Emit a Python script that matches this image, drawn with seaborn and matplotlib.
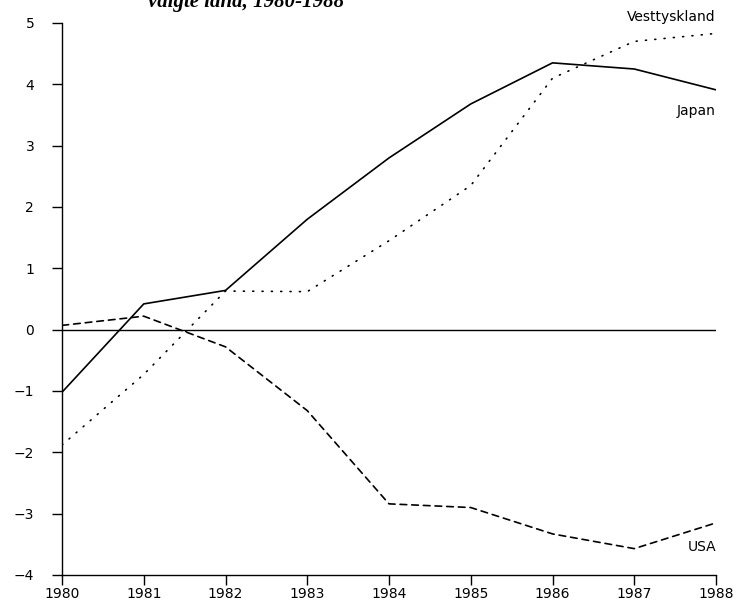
import numpy as np
import pandas as pd
import matplotlib
matplotlib.use("Agg")
import matplotlib.pyplot as plt
import seaborn as sns

years = [1980, 1981, 1982, 1983, 1984, 1985, 1986, 1987, 1988]
japan = [-1.02, 0.42, 0.64, 1.80, 2.80, 3.68, 4.35, 4.25, 3.91]
vesttyskland = [-1.88, -0.73, 0.63, 0.62, 1.45, 2.35, 4.10, 4.70, 4.83]
usa = [0.07, 0.22, -0.28, -1.32, -2.84, -2.90, -3.33, -3.57, -3.15]

df = pd.DataFrame({
    "aar": years * 3,
    "verdi": japan + vesttyskland + usa,
    "land": ["Japan"] * 9 + ["Vesttyskland"] * 9 + ["USA"] * 9,
})

sns.set_style("ticks")
plt.rcParams['font.family'] = ['DejaVu Sans']
plt.rcParams['text.color'] = 'black'

fig = plt.figure(figsize=(7.38, 6.05), dpi=100)
ax = fig.add_axes([62 / 738, 30 / 605, (716 - 62) / 738, (575 - 23) / 605])

ax.axhline(0, color="black", lw=1.0, zorder=1)
sns.lineplot(data=df, x="aar", y="verdi", style="land",
             dashes={"Japan": "", "Vesttyskland": (0.6, 5.0), "USA": (4, 3)},
             color="black", lw=1.2, legend=False, ax=ax)
for l in ax.lines:
    l.set_dash_capstyle("round")

ax.set_xlim(1980, 1988)
ax.set_ylim(-4, 5)
ax.set_xticks(years)
ax.set_yticks(range(-4, 6))
ax.set_xlabel("")
ax.set_ylabel("")
sns.despine(ax=ax)
for s in ["left", "bottom"]:
    ax.spines[s].set_linewidth(1.0)
    ax.spines[s].set_color("black")
ax.tick_params(axis="both", direction="out", length=7, width=1.0, colors="black", labelsize=10)
ax.tick_params(axis="y", pad=13)
ax.tick_params(axis="x", pad=2)

ax.text(1988, 5.09, "Vesttyskland", ha="right", va="center", fontsize=10)
ax.text(1988, 3.57, "Japan", ha="right", va="center", fontsize=10)
ax.text(1988, -3.55, "USA", ha="right", va="center", fontsize=10)

fig.text(148 / 738, 1 - 7 / 605, "valgte land, 1980-1988", ha="left", va="baseline",
         fontsize=15, family="Liberation Serif", style="italic", weight="bold")

fig.savefig("out.png", dpi=100, facecolor="white")
